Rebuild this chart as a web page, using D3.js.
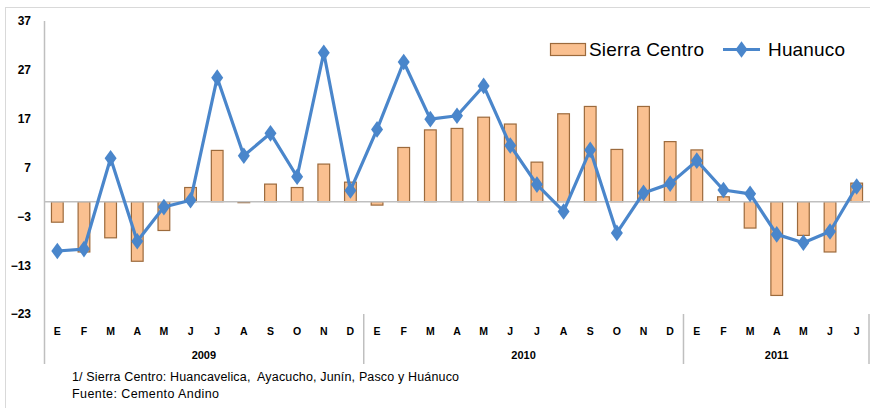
<!DOCTYPE html>
<html>
<head>
<meta charset="utf-8">
<script src="https://cdn.jsdelivr.net/npm/d3@7"></script>
<style>
  body { margin: 0; background: #fff; }
  svg { display: block; font-family: "Liberation Sans", Arial, sans-serif; }
</style>
</head>
<body>
<div id="chart"></div>
<script>
// data
var months = ["E","F","M","A","M","J","J","A","S","O","N","D",
              "E","F","M","A","M","J","J","A","S","O","N","D",
              "E","F","M","A","M","J","J"];
var years = ["2009", "2010", "2011"];
var yearLengths = [12, 12, 7];
var sierraCentro = [-4.2, -10.3, -7.4, -12.2, -5.9, 2.9, 10.5, -0.2, 3.6, 2.9, 7.7, 4.0,
                    -0.7, 11.1, 14.7, 15.0, 17.3, 15.9, 8.1, 18.0, 19.5, 10.7, 19.5, 12.3,
                    10.6, 1.0, -5.4, -19.2, -6.9, -10.3, 3.8];
var huanuco = [-10.1, -9.7, 8.9, -8.1, -1.1, 0.3, 25.4, 9.4, 14.0, 5.1, 30.5, 2.3,
               14.8, 28.6, 16.9, 17.6, 23.7, 11.5, 3.5, -2.0, 10.6, -6.4, 1.8, 3.7,
               8.4, 2.4, 1.6, -6.7, -8.4, -6.1, 3.1];
var yTicks = [-23, -13, -3, 7, 17, 27, 37];

var width = 870, height = 408;
var plot = {left: 44, right: 870, top: 21, bottom: 314};

var svg = d3.select("#chart").append("svg")
    .attr("width", width)
    .attr("height", height);

// chart border
svg.append("rect")
    .attr("x", 5.5).attr("y", 7.5)
    .attr("width", 880).attr("height", 420)
    .attr("fill", "none")
    .attr("stroke", "#d9d9d9");

var idx = d3.range(months.length);

var x = d3.scaleBand()
    .domain(idx)
    .range([plot.left, plot.right])
    .padding(0);

var y = d3.scaleLinear()
    .domain([-23, 37])
    .range([plot.bottom, plot.top]);

var bw = x.bandwidth();

// y axis
var yAxis = svg.append("g")
    .attr("transform", "translate(" + plot.left + ",0)")
    .call(d3.axisLeft(y).tickValues(yTicks).tickSize(0).tickPadding(13));
yAxis.select(".domain").remove();
yAxis.selectAll("text")
    .attr("font-size", 12)
    .attr("font-weight", "bold")
    .attr("fill", "#000");

svg.append("line")
    .attr("x1", plot.left + 0.5).attr("x2", plot.left + 0.5)
    .attr("y1", plot.top).attr("y2", 364)
    .attr("stroke", "#bfbfbf").attr("stroke-width", 1.5);

// bars
svg.append("g").selectAll("rect")
    .data(sierraCentro)
    .enter()
    .append("rect")
    .attr("x", function(d, i) { return x(i) + bw * 0.28; })
    .attr("width", bw * 0.44)
    .attr("y", function(d) { return y(Math.max(0, d)); })
    .attr("height", function(d) { return Math.abs(y(d) - y(0)); })
    .attr("fill", "#fac090")
    .attr("stroke", "#9c6a3c")
    .attr("stroke-width", 1.2);

// zero line
svg.append("line")
    .attr("x1", plot.left).attr("x2", plot.right)
    .attr("y1", y(0)).attr("y2", y(0))
    .attr("stroke", "#bfbfbf").attr("stroke-width", 1.5);

// month labels
svg.append("g").selectAll("text")
    .data(months)
    .enter()
    .append("text")
    .attr("x", function(d, i) { return x(i) + bw / 2; })
    .attr("y", 335)
    .attr("text-anchor", "middle")
    .attr("font-size", 10.5)
    .attr("font-weight", "bold")
    .text(function(d) { return d; });

// year groups
var start = 0;
years.forEach(function(yr, k) {
  var n = yearLengths[k];
  var x0 = x(start), x1 = x(start + n - 1) + bw;
  svg.append("text")
      .attr("x", (x0 + x1) / 2)
      .attr("y", 359)
      .attr("text-anchor", "middle")
      .attr("font-size", 11)
      .attr("font-weight", "bold")
      .text(yr);
  if (k > 0) {
    svg.append("line")
        .attr("x1", x0).attr("x2", x0)
        .attr("y1", plot.bottom).attr("y2", 364)
        .attr("stroke", "#bfbfbf").attr("stroke-width", 1.5);
  }
  start += n;
});
svg.append("line")
    .attr("x1", plot.right - 1).attr("x2", plot.right - 1)
    .attr("y1", plot.bottom).attr("y2", 364)
    .attr("stroke", "#bfbfbf").attr("stroke-width", 1.5);

// line
var line = d3.line()
    .x(function(d, i) { return x(i) + bw / 2; })
    .y(function(d) { return y(d); });

svg.append("path")
    .datum(huanuco)
    .attr("d", line)
    .attr("fill", "none")
    .attr("stroke", "#4a86cb")
    .attr("stroke-width", 3.2)
    .attr("stroke-linejoin", "round");

var diamond = d3.symbol().type(d3.symbolDiamond).size(80);

svg.append("g").selectAll("path")
    .data(huanuco)
    .enter()
    .append("path")
    .attr("d", diamond)
    .attr("transform", function(d, i) {
      return "translate(" + (x(i) + bw / 2) + "," + y(d) + ") scale(1.25,1)";
    })
    .attr("fill", "#4a86cb");

// legend
var lg = svg.append("g");
lg.append("rect")
    .attr("x", 550.5).attr("y", 43.5)
    .attr("width", 35).attr("height", 12)
    .attr("fill", "#fac090")
    .attr("stroke", "#9c6a3c")
    .attr("stroke-width", 1.2);
lg.append("text")
    .attr("x", 589).attr("y", 56)
    .attr("font-size", 19)
    .attr("textLength", 115)
    .text("Sierra Centro");
lg.append("line")
    .attr("x1", 723).attr("x2", 760)
    .attr("y1", 49.5).attr("y2", 49.5)
    .attr("stroke", "#4a86cb").attr("stroke-width", 3.2);
lg.append("path")
    .attr("d", diamond)
    .attr("transform", "translate(741.5,49.5) scale(1.25,1)")
    .attr("fill", "#4a86cb");
lg.append("text")
    .attr("x", 768).attr("y", 56)
    .attr("font-size", 19)
    .attr("textLength", 77)
    .text("Huanuco");

// footnotes
svg.append("text")
    .attr("x", 72).attr("y", 381)
    .attr("font-size", 12.5)
    .attr("textLength", 387)
    .style("white-space", "pre")
    .text("1/ Sierra Centro: Huancavelica,  Ayacucho, Junín, Pasco y Huánuco");
svg.append("text")
    .attr("x", 72).attr("y", 398)
    .attr("font-size", 12.5)
    .attr("textLength", 147)
    .text("Fuente: Cemento Andino");
</script>
</body>
</html>
